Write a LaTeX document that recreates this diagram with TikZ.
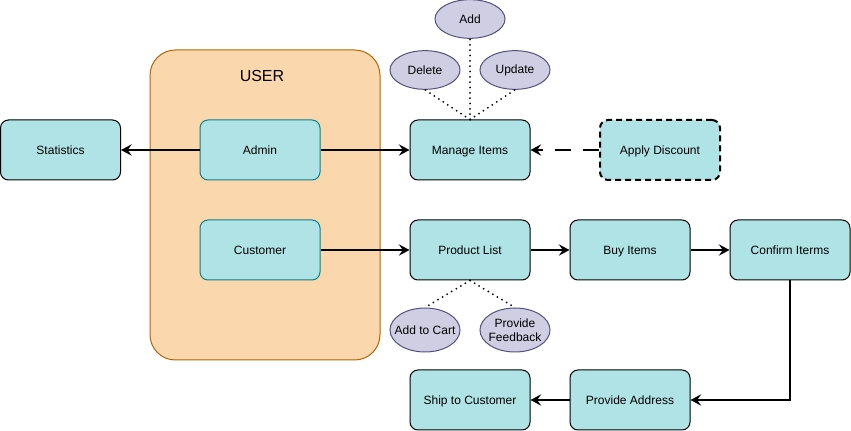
\documentclass[tikz,border=0pt]{standalone}
\usepackage{fontspec}
\setmainfont{Liberation Sans}
\usetikzlibrary{arrows.meta,shapes.geometric}
\definecolor{boxfill}{HTML}{B0E3E6}
\definecolor{boxteal}{HTML}{0E8088}
\definecolor{userfill}{HTML}{FAD7AC}
\definecolor{userdraw}{HTML}{B46504}
\definecolor{ellfill}{HTML}{D0CEE2}
\definecolor{elldraw}{HTML}{56517E}
\tikzset{
  box/.style={draw=black, fill=boxfill, rounded corners=6pt, minimum width=90pt, minimum height=45pt, line width=0.75pt, font=\fontsize{9}{11}\selectfont, align=center, inner sep=0pt, text height=7.3pt, text depth=1pt},
  tealbox/.style={box, draw=boxteal},
  ell/.style={ellipse, draw=elldraw, fill=ellfill, minimum width=52.5pt, minimum height=29pt, line width=0.75pt, inner sep=0pt},
  elltext/.style={font=\fontsize{9}{10.5}\selectfont, align=center, inner sep=0pt},
  flow/.style={line width=2.1pt, -{Stealth[length=8pt,width=8.5pt,inset=3pt]}},
  dots/.style={line width=1.5pt, dash pattern=on 0pt off 4pt, line cap=round},
}
\begin{document}
\begin{tikzpicture}[x=0.75pt,y=-0.75pt]
\useasboundingbox (0,0) rectangle (851,431);
% container
\node[draw=userdraw, fill=userfill, rounded corners=19pt, minimum width=172.5pt, minimum height=232.5pt, line width=0.75pt, inner sep=0pt] (user) at (265,205) {};
\node[font=\fontsize{12}{14}\selectfont] (usertitle) at (262,76) {USER};
% boxes
\node[box] (stat) at (60.5,150) {Statistics};
\node[tealbox] (admin) at (260,150) {Admin};
\node[tealbox] (cust) at (260,250) {Customer};
\node[box] (manage) at (470,150) {Manage Items};
\node[box, line width=1.5pt, dash pattern=on 4.5pt off 3pt] (disc) at (660,150) {Apply Discount};
\node[box] (plist) at (470,250) {Product List};
\node[box] (buy) at (630,250) {Buy Items};
\node[box] (confirm) at (790,250) {Confirm Iterms};
\node[box] (ship) at (470,400) {Ship to Customer};
\node[box] (addr) at (630,400) {Provide Address};
% ellipses
\node[ell, label={[elltext]center:Add}] (add) at (470,19) {};
\node[ell, label={[elltext]center:Delete}] (del) at (425,70) {};
\node[ell, label={[elltext]center:Update}] (upd) at (515,70) {};
\node[ell, minimum height=33pt, label={[elltext]center:Add to Cart}] (cart) at (425,330) {};
\node[ell, minimum height=33pt, label={[elltext]center:Provide\\Feedback}] (feed) at (515,330) {};
% dotted links
\draw[dots] (manage.north) -- (add.south);
\draw[dots] (manage.north) -- (del.south);
\draw[dots] (manage.north) -- (upd.south);
\draw[dots] (plist.south) -- (cart.north);
\draw[dots] (plist.south) -- (feed.north);
% arrows
\draw[flow] (admin) -- (stat);
\draw[flow] (admin) -- (manage);
\draw[flow] (cust) -- (plist);
\draw[flow, dash pattern=on 12pt off 9pt] (disc) -- (manage);
\draw[flow] (plist) -- (buy);
\draw[flow] (buy) -- (confirm);
\draw[flow] (confirm.south) |- (addr.east);
\draw[flow] (addr) -- (ship);
\end{tikzpicture}
\end{document}
